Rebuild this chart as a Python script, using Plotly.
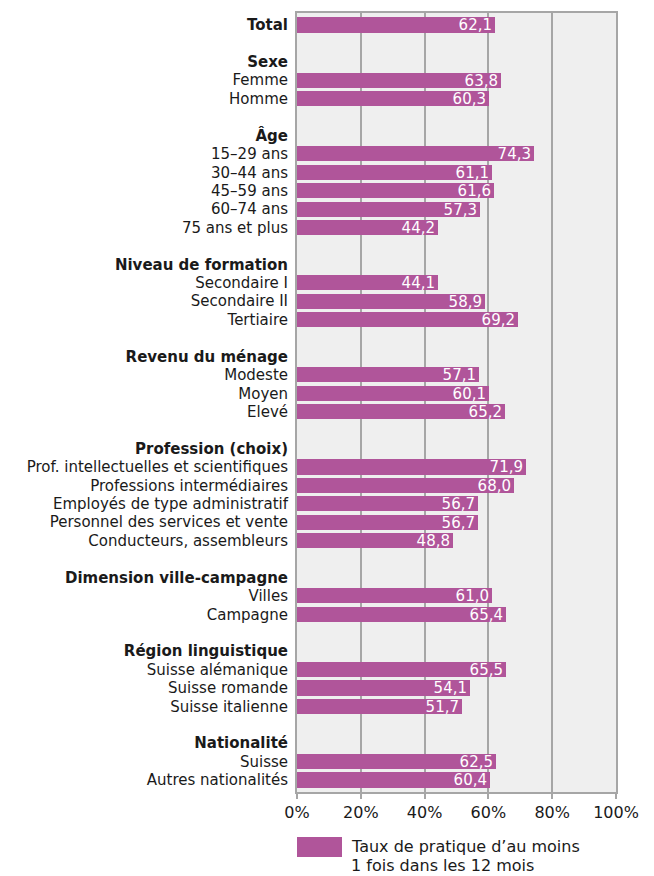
import plotly.graph_objects as go

# Row labels from top to bottom; None marks a spacer row, headers are bold
rows = [
    ("Total", True), (None, False),
    ("Sexe", True), ("Femme", False), ("Homme", False), (None, False),
    ("Âge", True), ("15–29 ans", False), ("30–44 ans", False), ("45–59 ans", False),
    ("60–74 ans", False), ("75 ans et plus", False), (None, False),
    ("Niveau de formation", True), ("Secondaire I", False), ("Secondaire II", False),
    ("Tertiaire", False), (None, False),
    ("Revenu du ménage", True), ("Modeste", False), ("Moyen", False), ("Elevé", False), (None, False),
    ("Profession (choix)", True), ("Prof. intellectuelles et scientifiques", False),
    ("Professions intermédiaires", False), ("Employés de type administratif", False),
    ("Personnel des services et vente", False), ("Conducteurs, assembleurs", False), (None, False),
    ("Dimension ville-campagne", True), ("Villes", False), ("Campagne", False), (None, False),
    ("Région linguistique", True), ("Suisse alémanique", False), ("Suisse romande", False),
    ("Suisse italienne", False), (None, False),
    ("Nationalité", True), ("Suisse", False), ("Autres nationalités", False),
]

# Values (%) per labelled row; headers other than "Total" carry no bar
values = {
    "Total": 62.1,
    "Femme": 63.8, "Homme": 60.3,
    "15–29 ans": 74.3, "30–44 ans": 61.1, "45–59 ans": 61.6, "60–74 ans": 57.3, "75 ans et plus": 44.2,
    "Secondaire I": 44.1, "Secondaire II": 58.9, "Tertiaire": 69.2,
    "Modeste": 57.1, "Moyen": 60.1, "Elevé": 65.2,
    "Prof. intellectuelles et scientifiques": 71.9, "Professions intermédiaires": 68.0,
    "Employés de type administratif": 56.7, "Personnel des services et vente": 56.7,
    "Conducteurs, assembleurs": 48.8,
    "Villes": 61.0, "Campagne": 65.4,
    "Suisse alémanique": 65.5, "Suisse romande": 54.1, "Suisse italienne": 51.7,
    "Suisse": 62.5, "Autres nationalités": 60.4,
}

x_ticks = [0, 20, 40, 60, 80, 100]
x_ticklabels = ["0%", "20%", "40%", "60%", "80%", "100%"]
series_lines = ["Taux de pratique d’au moins", "1 fois dans les 12 mois"]

BAR = "#B0559A"
FONT = "DejaVu Sans"
FS = 15
INK = "#1a1a1a"

tick_pos, tick_text = [], []
bar_y, bar_x, bar_txt = [], [], []
for i, (label, bold) in enumerate(rows):
    if label is None:
        continue
    tick_pos.append(i)
    tick_text.append(f"<b>{label}</b>" if bold else label)
    if label in values:
        v = values[label]
        bar_y.append(i)
        bar_x.append(v)
        bar_txt.append(f"{v:.1f}".replace(".", ","))

fig = go.Figure(go.Bar(
    x=bar_x, y=bar_y, orientation="h",
    marker=dict(color=BAR, line=dict(width=0)),
    width=0.82,
    text=bar_txt, textposition="inside", insidetextanchor="end",
    textfont=dict(color="white", size=FS, family=FONT),
    constraintext="none", cliponaxis=False,
    showlegend=False, hoverinfo="skip",
))

fig.update_layout(
    width=654, height=876,
    margin=dict(l=297, r=38, t=13, b=84),
    paper_bgcolor="white", plot_bgcolor="#EFEFEF",
    font=dict(family=FONT, size=FS, color=INK),
    bargap=0,
)
fig.update_xaxes(
    range=[0, 100], tickvals=x_ticks, ticktext=x_ticklabels,
    showgrid=True, gridcolor="#A6A6A6", gridwidth=1.5,
    showline=True, linecolor="#A6A6A6", linewidth=2, mirror=True,
    ticks="outside", ticklen=5, tickcolor="#A6A6A6", tickwidth=1.5,
    tickfont=dict(size=16, color=INK), zeroline=False, fixedrange=True,
)
fig.update_yaxes(
    range=[len(rows) - 1 + 0.65, -0.65], tickvals=tick_pos, ticktext=tick_text,
    showgrid=False, showline=True, linecolor="#A6A6A6", linewidth=2, mirror=True,
    ticks="", ticklabelstandoff=4, tickfont=dict(size=FS, color=INK),
    zeroline=False, fixedrange=True,
)

# Legend swatch and two-line caption below the plot
plot_h = 876 - 13 - 84
fig.add_shape(type="rect", xref="paper", yref="paper",
              x0=0, x1=45 / 319, y0=-65 / plot_h, y1=-45 / plot_h,
              fillcolor=BAR, line=dict(width=0))
for k, line in enumerate(series_lines):
    fig.add_annotation(xref="paper", yref="paper", x=53 / 319, y=-(55 + 18.5 * k) / plot_h,
                       xanchor="left", yanchor="middle", align="left",
                       text=line, showarrow=False, borderpad=0,
                       font=dict(size=16, color=INK, family=FONT))

fig.write_html("out.html")
